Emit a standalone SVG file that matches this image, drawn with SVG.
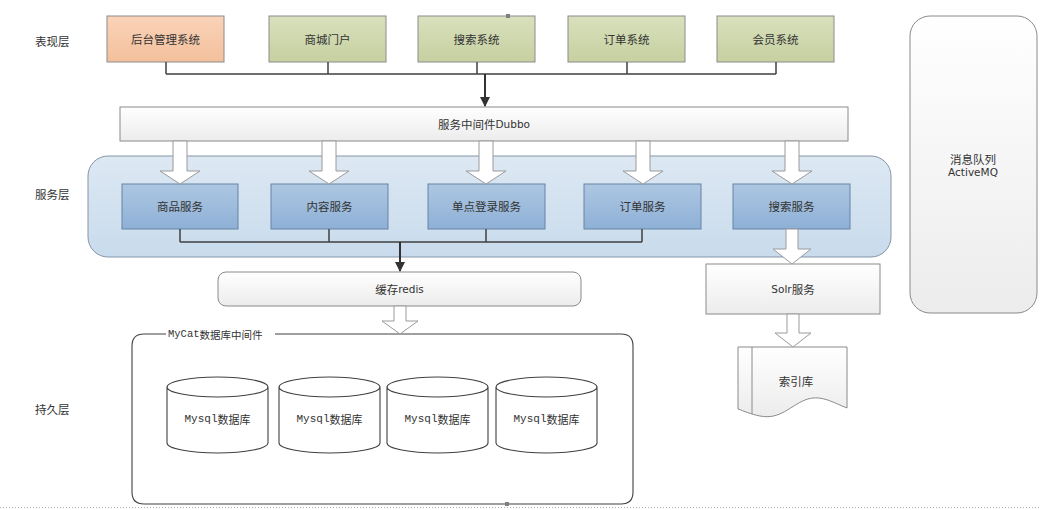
<svg xmlns="http://www.w3.org/2000/svg" width="1053" height="510" viewBox="0 0 1053 510">
<style>
  text { font-family: "Noto Sans CJK SC", "Liberation Sans", sans-serif; font-size: 11.5px; fill: #333; text-anchor: middle; dominant-baseline: central; }
  .lat { font-family: "DejaVu Sans", "Noto Sans CJK SC", sans-serif; font-size: 10.5px; }
  .mono { font-family: "Liberation Mono", "Noto Sans CJK SC", monospace; font-size: 11px; }
  .lbl { text-anchor: start; }
  .peach { fill: url(#gPeach); stroke: #8c8c8c; stroke-width: 1; }
  .green { fill: url(#gGreen); stroke: #8c8c8c; stroke-width: 1; }
  .blue { fill: url(#gBlue); stroke: #6783a6; stroke-width: 1; }
  .white { fill: url(#gWhite); stroke: #8a8a8a; stroke-width: 1; }
  .line { fill: none; stroke: #404040; stroke-width: 1.5; }
  .hollow { fill: #ffffff; stroke: #9a9a9a; stroke-width: 1; }
  .cyl { fill: #ffffff; stroke: #404040; stroke-width: 1.1; }
</style>
<defs>
  <linearGradient id="gPeach" x1="0" y1="0" x2="0" y2="1"><stop offset="0" stop-color="#fad3b9"/><stop offset="1" stop-color="#f3c09c"/></linearGradient>
  <linearGradient id="gGreen" x1="0" y1="0" x2="0" y2="1"><stop offset="0" stop-color="#d9e0bd"/><stop offset="1" stop-color="#c6d0a0"/></linearGradient>
  <linearGradient id="gBlue" x1="0" y1="0" x2="0" y2="1"><stop offset="0" stop-color="#adc7e2"/><stop offset="1" stop-color="#8eb0d6"/></linearGradient>
  <linearGradient id="gWhite" x1="0" y1="0" x2="0" y2="1"><stop offset="0" stop-color="#ffffff"/><stop offset="1" stop-color="#ececec"/></linearGradient>
  <linearGradient id="gCont" x1="0" y1="0" x2="0" y2="1"><stop offset="0" stop-color="#dde8f3"/><stop offset="1" stop-color="#c8dbec"/></linearGradient>
  <marker id="ah" viewBox="0 0 10 10" refX="9" refY="5" markerWidth="5" markerHeight="5" orient="auto"><path d="M0,0 L10,5 L0,10 Z" fill="#333"/></marker>
  <symbol id="harrow" overflow="visible"><path class="hollow" d="M-7,0 H7 V-1 Z"/></symbol>
</defs>

<!-- layer labels -->
<text x="35" y="41" class="lbl">表现层</text>
<text x="35" y="194" class="lbl">服务层</text>
<text x="35" y="409" class="lbl">持久层</text>

<!-- service layer container -->
<g id="service-layer">
  <rect x="88" y="156" width="803" height="101" rx="20" ry="20" fill="url(#gCont)" stroke="#8596a8" stroke-width="1"/>
</g>

<!-- presentation layer -->
<g id="admin"><rect class="peach" x="107" y="16" width="117" height="46"/><text x="165.5" y="39">后台管理系统</text></g>
<g id="portal"><rect class="green" x="269" y="16" width="117" height="46"/><text x="327.5" y="39">商城门户</text></g>
<g id="search-sys"><rect class="green" x="418" y="16" width="117" height="46"/><text x="476.5" y="39">搜索系统</text></g>
<g id="order-sys"><rect class="green" x="568" y="16" width="117" height="46"/><text x="626.5" y="39">订单系统</text></g>
<g id="member-sys"><rect class="green" x="717" y="16" width="117" height="46"/><text x="775.5" y="39">会员系统</text></g>

<!-- dubbo -->
<g id="dubbo"><rect class="white" x="120" y="107" width="728" height="34"/><text x="484" y="124">服务中间件<tspan class="lat">Dubbo</tspan></text></g>

<!-- MQ -->
<g id="mq"><rect class="white" x="910" y="16" width="127" height="297" rx="20" ry="20"/><text x="973" y="159">消息队列</text><text x="973" y="172" class="lat">ActiveMQ</text></g>

<!-- services -->
<g id="goods-svc"><rect class="blue" x="122" y="184" width="116" height="45"/><text x="180" y="206">商品服务</text></g>
<g id="content-svc"><rect class="blue" x="271" y="184" width="117" height="45"/><text x="329.5" y="206">内容服务</text></g>
<g id="sso-svc"><rect class="blue" x="428" y="184" width="117" height="45"/><text x="486.5" y="206">单点登录服务</text></g>
<g id="order-svc"><rect class="blue" x="584" y="184" width="117" height="45"/><text x="642.5" y="206">订单服务</text></g>
<g id="search-svc"><rect class="blue" x="733" y="184" width="117" height="45"/><text x="791.5" y="206">搜索服务</text></g>

<!-- redis -->
<g id="redis"><rect class="white" x="218" y="272" width="363" height="34" rx="8" ry="8"/><text x="399.5" y="289">缓存<tspan class="lat">redis</tspan></text></g>

<!-- solr -->
<g id="solr"><rect class="white" x="706" y="264" width="174" height="50"/><text x="793" y="289"><tspan class="lat">Solr</tspan>服务</text></g>

<!-- index doc -->
<g id="index">
  <path class="white" d="M738,347 H847 V408 C832,402 820,394 805,400 C790,406 780,420 760,416 C750,414 744,411 738,409 Z"/>
  <line x1="752" y1="347" x2="752" y2="414" stroke="#8a8a8a" stroke-width="1"/>
  <text x="796" y="381">索引库</text>
</g>

<!-- mycat -->
<g id="mycat">
  <path d="M166,334 H144 Q132,334 132,346 V492 Q132,504 144,504 H621 Q633,504 633,492 V346 Q633,334 621,334 H275" fill="none" stroke="#404040" stroke-width="1.1"/>
  <text x="168" y="334" class="lbl mono" style="font-size:10.5px">MyCat<tspan font-family="Noto Sans CJK SC">数据库中间件</tspan></text>
</g>

<g id="db1">
  <path class="cyl" d="M167,387 A50.5,10 0 0 1 268,387 V443 A50.5,10 0 0 1 167,443 Z M167,387 A50.5,10 0 0 0 268,387"/>
  <text x="217.5" y="419" class="mono">Mysql<tspan font-family="Noto Sans CJK SC">数据库</tspan></text>
</g>
<g id="db2">
  <path class="cyl" d="M279,387 A50.5,10 0 0 1 380,387 V443 A50.5,10 0 0 1 279,443 Z M279,387 A50.5,10 0 0 0 380,387"/>
  <text x="329.5" y="419" class="mono">Mysql<tspan font-family="Noto Sans CJK SC">数据库</tspan></text>
</g>
<g id="db3">
  <path class="cyl" d="M387,387 A50.5,10 0 0 1 488,387 V443 A50.5,10 0 0 1 387,443 Z M387,387 A50.5,10 0 0 0 488,387"/>
  <text x="437.5" y="419" class="mono">Mysql<tspan font-family="Noto Sans CJK SC">数据库</tspan></text>
</g>
<g id="db4">
  <path class="cyl" d="M496,387 A50.5,10 0 0 1 597,387 V443 A50.5,10 0 0 1 496,443 Z M496,387 A50.5,10 0 0 0 597,387"/>
  <text x="546.5" y="419" class="mono">Mysql<tspan font-family="Noto Sans CJK SC">数据库</tspan></text>
</g>

<!-- connectors -->
<g id="connectors">
  <path class="line" d="M166,62 V74 M328,62 V74 M477,62 V74 M627,62 V74 M776,62 V74 M166,74 H776"/>
  <line x1="485" y1="74" x2="485" y2="106" stroke="#333" stroke-width="2" marker-end="url(#ah)"/>
  <!-- hollow arrows dubbo -> services -->
  <path class="hollow" d="M173,141 H187 V171 H200 L180,184 L160,171 H173 Z"/>
  <path class="hollow" d="M322,141 H336 V171 H349 L329,184 L309,171 H322 Z"/>
  <path class="hollow" d="M479,141 H493 V171 H506 L486,184 L466,171 H479 Z"/>
  <path class="hollow" d="M636,141 H650 V171 H663 L643,184 L623,171 H636 Z"/>
  <path class="hollow" d="M785,141 H799 V171 H812 L792,184 L772,171 H785 Z"/>
  <!-- services -> redis -->
  <path class="line" d="M180,229 V242 M329,229 V242 M486,229 V242 M642,229 V242 M180,242 H642"/>
  <line x1="400" y1="242" x2="400" y2="271" stroke="#333" stroke-width="2" marker-end="url(#ah)"/>
  <!-- search svc -> solr -->
  <path class="hollow" d="M786,229 H798 V249 H811 L792,264 L773,249 H786 Z"/>
  <!-- solr -> index -->
  <path class="hollow" d="M787,314 H799 V333 H811 L793,347 L775,333 H787 Z"/>
  <!-- redis -> mycat -->
  <path class="hollow" d="M394,306 H406 V321 H418 L400,334 L382,321 H394 Z"/>
</g>

<!-- page edge -->
<line x1="0" y1="507.5" x2="1040" y2="507.5" stroke="#b0b0b0" stroke-width="1" stroke-dasharray="1,2"/>
<rect x="506" y="14" width="4" height="4" fill="#808080"/>
<rect x="505" y="502" width="4" height="4" fill="#808080"/>
</svg>
